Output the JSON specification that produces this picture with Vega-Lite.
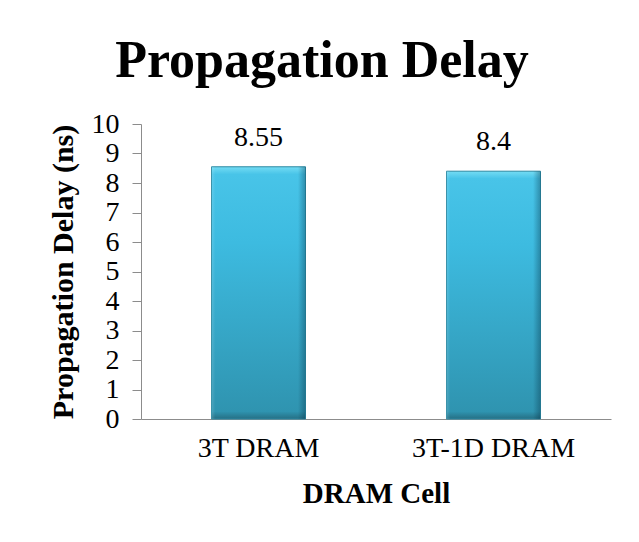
{
  "$schema": "https://vega.github.io/schema/vega-lite/v6.json",
  "width": 470,
  "height": 295,
  "autosize": {"type": "none"},
  "padding": {"left": 141, "top": 124, "right": 28, "bottom": 123},
  "background": "white",
  "config": {
    "font": "Liberation Serif",
    "view": {"stroke": null}
  },
  "title": {
    "text": "Propagation Delay",
    "font": "Liberation Serif",
    "fontSize": 52,
    "fontWeight": "bold",
    "color": "black",
    "anchor": "middle",
    "frame": "group",
    "dx": -54,
    "baseline": "alphabetic",
    "offset": -19
  },
  "data": {
    "values": [
      {"cell": "3T DRAM", "delay": 8.55},
      {"cell": "3T-1D DRAM", "delay": 8.4}
    ]
  },
  "encoding": {
    "x": {
      "field": "cell",
      "type": "nominal",
      "sort": null,
      "scale": {"paddingInner": 0.6, "paddingOuter": 0.3},
      "axis": {
        "title": "DRAM Cell",
        "titleFont": "Liberation Serif",
        "titleFontSize": 29,
        "titleFontWeight": "bold",
        "titleColor": "black",
        "titlePadding": 17,
        "labelFont": "Liberation Serif",
        "labelFontSize": 28,
        "labelColor": "black",
        "labelAngle": 0,
        "labelPadding": 15,
        "ticks": false,
        "domainColor": "#8c8c8c",
        "grid": false
      }
    },
    "y": {
      "field": "delay",
      "type": "quantitative",
      "scale": {"domain": [0, 10], "nice": false},
      "axis": {
        "title": "Propagation Delay (ns)",
        "titleFont": "Liberation Serif",
        "titleFontSize": 30,
        "titleFontWeight": "bold",
        "titleColor": "black",
        "titlePadding": 13,
        "values": [0, 1, 2, 3, 4, 5, 6, 7, 8, 9, 10],
        "labelFont": "Liberation Serif",
        "labelFontSize": 28,
        "labelColor": "black",
        "labelPadding": 13,
        "tickSize": 9,
        "tickColor": "#8c8c8c",
        "domainColor": "#8c8c8c",
        "grid": false
      }
    }
  },
  "layer": [
    {
      "mark": {
        "type": "bar",
        "fill": {
          "gradient": "linear",
          "x1": 0, "y1": 0, "x2": 0, "y2": 1,
          "stops": [
            {"offset": 0, "color": "#74dcf4"},
            {"offset": 0.03, "color": "#48c4e8"},
            {"offset": 0.3, "color": "#3dbbe0"},
            {"offset": 0.97, "color": "#2f94b0"},
            {"offset": 1, "color": "#256f84"}
          ]
        },
        "stroke": "#2c89a3",
        "strokeWidth": 1
      }
    },
    {
      "mark": {
        "type": "bar",
        "fill": {
          "gradient": "linear",
          "x1": 0, "y1": 0, "x2": 1, "y2": 0,
          "stops": [
            {"offset": 0, "color": "rgba(255,255,255,0.15)"},
            {"offset": 0.04, "color": "rgba(255,255,255,0)"},
            {"offset": 0.92, "color": "rgba(0,40,60,0)"},
            {"offset": 1, "color": "rgba(0,40,60,0.35)"}
          ]
        }
      }
    },
    {
      "mark": {
        "type": "text",
        "baseline": "alphabetic",
        "dy": -21,
        "font": "Liberation Serif",
        "fontSize": 28,
        "color": "black"
      },
      "encoding": {
        "text": {"field": "delay", "type": "quantitative"}
      }
    }
  ]
}
